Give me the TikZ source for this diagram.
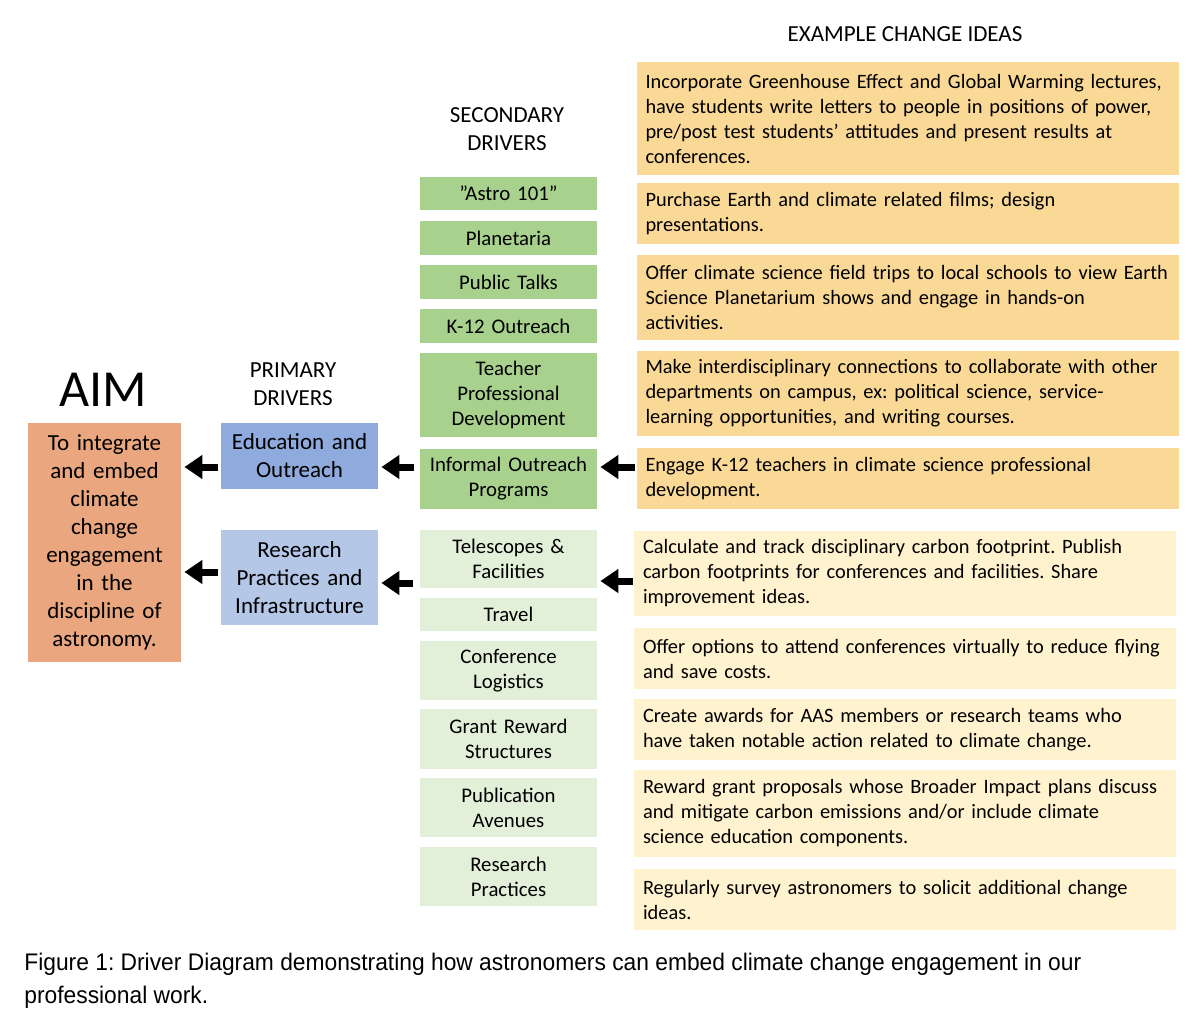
\documentclass[tikz,border=0pt]{standalone}
\usepackage{fontspec}
\setmainfont{Carlito}
\newfontfamily\capfont[FakeStretch=0.95]{Liberation Sans}
\usetikzlibrary{arrows.meta}
\frenchspacing
\definecolor{aimorange}{RGB}{233,166,127}
\definecolor{edublue}{RGB}{143,170,220}
\definecolor{resblue}{RGB}{180,199,231}
\definecolor{edugreen}{RGB}{169,209,142}
\definecolor{resgreen}{RGB}{226,240,217}
\definecolor{edugold}{RGB}{250,217,150}
\definecolor{resgold}{RGB}{255,242,206}
\tikzset{
  headtxt/.style={align=center, inner sep=0pt,
           font=\fontsize{11.5}{14}\selectfont},
  aimbox/.style={rectangle, fill=aimorange, inner sep=0pt,
           text width=76.5pt, align=center,
           font=\fontsize{11.5}{14}\selectfont},
  primbox/.style={rectangle, inner sep=0pt,
           text width=78.5pt, align=center,
           font=\fontsize{11.5}{14}\selectfont},
  secbox/.style={rectangle, inner sep=0pt,
           text width=88.5pt, align=center,
           font=\fontsize{10.4}{12.5}\selectfont},
  ideabox/.style={rectangle, inner xsep=4.5pt, inner ysep=0pt,
           text width=262pt, align=left,
           font=\fontsize{10.2}{12.5}\selectfont},
  bigarrow/.style={-{Triangle[length=9pt,width=11.5pt]}, line width=3.5pt,
           black, shorten >=1.5pt, shorten <=1.5pt},
  captxt/.style={align=left, inner sep=0pt,
           font=\capfont\fontsize{12}{16.5}\selectfont}
}
\begin{document}
\begin{tikzpicture}[x=0.5pt,y=-0.5pt]
  \useasboundingbox (0,0) rectangle (1200,1024);
  % headings
  \node[headtxt] (aimhd) at (103,390) {\fontsize{26}{30}\selectfont AIM};
  \node[headtxt] (primhd) at (293,384) {PRIMARY\\DRIVERS};
  \node[headtxt] (sechd) at (507,129) {SECONDARY\\DRIVERS};
  \node[headtxt] (ideahd) at (905,34) {EXAMPLE CHANGE IDEAS};
  % aim
  \node[aimbox, minimum height=119.5pt] (aim) at (104.5,542.5) {To integrate\\and embed\\climate\\change\\engagement\\in the\\discipline of\\astronomy.};
  % primary drivers
  \node[primbox, fill=edublue, minimum height=33pt] (edu) at (299.5,456) {Education and\\Outreach};
  \node[primbox, fill=resblue, minimum height=47.5pt] (res) at (299.5,577.5) {Research\\Practices and\\Infrastructure};
  % secondary drivers, education
  \node[secbox, fill=edugreen, minimum height=16.5pt] (astro) at (508.5,193.5) {”Astro 101”};
  \node[secbox, fill=edugreen, minimum height=17pt] (plan) at (508.5,238) {Planetaria};
  \node[secbox, fill=edugreen, minimum height=17pt] (talks) at (508.5,282) {Public Talks};
  \node[secbox, fill=edugreen, minimum height=17pt] (k12) at (508.5,326) {K-12 Outreach};
  \node[secbox, fill=edugreen, minimum height=42pt] (teach) at (508.5,395) {Teacher\\Professional\\Development};
  \node[secbox, fill=edugreen, minimum height=30pt] (informal) at (508.5,479) {Informal Outreach\\Programs};
  % secondary drivers, research
  \node[secbox, fill=resgreen, minimum height=29pt] (tele) at (508.5,559) {Telescopes \&\\Facilities};
  \node[secbox, fill=resgreen, minimum height=16.5pt] (travel) at (508.5,614.5) {Travel};
  \node[secbox, fill=resgreen, minimum height=29.5pt] (conf) at (508.5,670.5) {Conference\\Logistics};
  \node[secbox, fill=resgreen, minimum height=30pt] (grant) at (508.5,739) {Grant Reward\\Structures};
  \node[secbox, fill=resgreen, minimum height=29.5pt] (publ) at (508.5,807.5) {Publication\\Avenues};
  \node[secbox, fill=resgreen, minimum height=29.5pt] (rpract) at (508.5,876.5) {Research\\Practices};
  % change ideas, education
  \node[ideabox, fill=edugold, minimum height=56.5pt] (idea1) at (907.5,118.5) {Incorporate Greenhouse Effect and Global Warming lectures,\\have students write letters to people in positions of power,\\pre/post test students’ attitudes and present results at\\conferences.};
  \node[ideabox, fill=edugold, minimum height=30.5pt] (idea2) at (907.5,213.5) {Purchase Earth and climate related films; design\\presentations.};
  \node[ideabox, fill=edugold, minimum height=42.5pt] (idea3) at (907.5,297.5) {Offer climate science field trips to local schools to view Earth\\Science Planetarium shows and engage in hands-on\\activities.};
  \node[ideabox, fill=edugold, minimum height=42.5pt] (idea4) at (907.5,393.5) {Make interdisciplinary connections to collaborate with other\\departments on campus, ex: political science, service-\\learning opportunities, and writing courses.};
  \node[ideabox, fill=edugold, minimum height=30.5pt] (idea5) at (907.5,478.5) {Engage K-12 teachers in climate science professional\\development.};
  % change ideas, research
  \node[ideabox, fill=resgold, minimum height=42.5pt] (idea6) at (905,573.5) {Calculate and track disciplinary carbon footprint. Publish\\carbon footprints for conferences and facilities. Share\\improvement ideas.};
  \node[ideabox, fill=resgold, minimum height=30.5pt] (idea7) at (905,658.5) {Offer options to attend conferences virtually to reduce flying\\and save costs.};
  \node[ideabox, fill=resgold, minimum height=30.5pt] (idea8) at (905,729.5) {Create awards for AAS members or research teams who\\have taken notable action related to climate change.};
  \node[ideabox, fill=resgold, minimum height=43.5pt] (idea9) at (905,813.5) {Reward grant proposals whose Broader Impact plans discuss\\and mitigate carbon emissions and/or include climate\\science education components.};
  \node[ideabox, fill=resgold, minimum height=30.5pt] (idea10) at (905,899.5) {Regularly survey astronomers to solicit additional change\\ideas.};
  % arrows
  \draw[bigarrow] (edu.west |- 0,467) -- (aim.east |- 0,467);
  \draw[bigarrow] (res.west |- 0,572) -- (aim.east |- 0,572);
  \draw[bigarrow, shorten <=3pt] (informal.west |- 0,467) -- (edu.east |- 0,467);
  \draw[bigarrow, shorten <=3.5pt] (tele.west |- 0,583) -- (res.east |- 0,583);
  \draw[bigarrow, shorten <=0.5pt] (idea5.west |- 0,467) -- (informal.east |- 0,467);
  \draw[bigarrow, shorten <=0.5pt] (idea6.west |- 0,581) -- (tele.east |- 0,581);
  % caption
  \node[captxt, anchor=north west] (cap) at (24,953) {Figure 1: Driver Diagram demonstrating how astronomers can embed climate change engagement in our\\professional work.};
\end{tikzpicture}
\end{document}
